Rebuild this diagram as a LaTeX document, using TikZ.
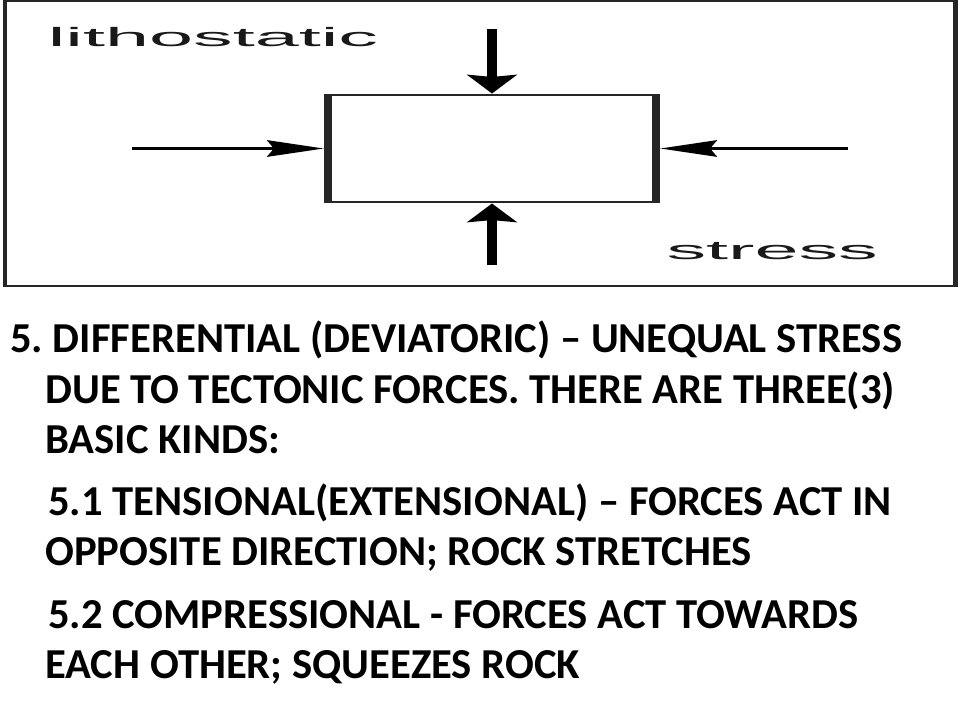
\documentclass[tikz,border=0pt]{standalone}
\usepackage{fontspec}
\setmainfont{Carlito}
\newfontfamily\arialfont{Liberation Sans}
\usetikzlibrary{arrows.meta}
\frenchspacing
\begin{document}
\begin{tikzpicture}[x=0.75pt,y=-0.75pt,
  frameline/.style={draw=black!85,line width=1.1pt},
  block/.style={draw=black!85,line width=2pt,fill=white,inner sep=0pt,
    minimum width=82pt,minimum height=80.25pt},
  force/.style={draw=black,line width=2.7pt,
    -{Stealth[length=14pt,width=12pt,inset=1.5pt]}},
  figlabel/.style={anchor=base west,inner sep=0pt,text=black!90,
    font=\arialfont\fontsize{19.8pt}{23pt}\selectfont},
  bodyline/.style={anchor=base west,inner sep=0pt,text=black,
    font=\bfseries\fontsize{32pt}{38pt}\selectfont}]
\useasboundingbox (0,0) rectangle (960,720);
\fill[white] (0,0) rectangle (960,720);
\begin{scope}[transform canvas={xscale=3}]
  \draw[frameline] (1.6,1) rectangle (318.5,286);
  \node[block] (box) at (164,148.5) {};
  \coordinate (lsrc) at (44,148.5);
  \coordinate (rsrc) at (282.7,148.5);
  \coordinate (tsrc) at (164,29);
  \coordinate (bsrc) at (164,265);
  \draw[force] (lsrc) -- (box.west);
  \draw[force] (rsrc) -- (box.east);
  \draw[force] (tsrc) -- (box.north);
  \draw[force] (bsrc) -- (box.south);
  \node[figlabel] (lith) at (15.7,47) {lithostatic};
  \node[figlabel] (stress) at (221.9,260) {stress};
\end{scope}
\node[bodyline] (l1) at (10,352) {5. DIFFERENTIAL (DEVIATORIC) – UNEQUAL STRESS};
\node[bodyline] (l2) at (45,403) {DUE TO TECTONIC FORCES. THERE ARE THREE(3)};
\node[bodyline] (l3) at (45,453) {BASIC KINDS:};
\node[bodyline] (l4) at (48,515) {5.1 TENSIONAL(EXTENSIONAL) – FORCES ACT IN};
\node[bodyline] (l5) at (45,565) {OPPOSITE DIRECTION; ROCK STRETCHES};
\node[bodyline] (l6) at (48,628) {5.2 COMPRESSIONAL - FORCES ACT TOWARDS};
\node[bodyline] (l7) at (45,678) {EACH OTHER; SQUEEZES ROCK};
\end{tikzpicture}
\end{document}
